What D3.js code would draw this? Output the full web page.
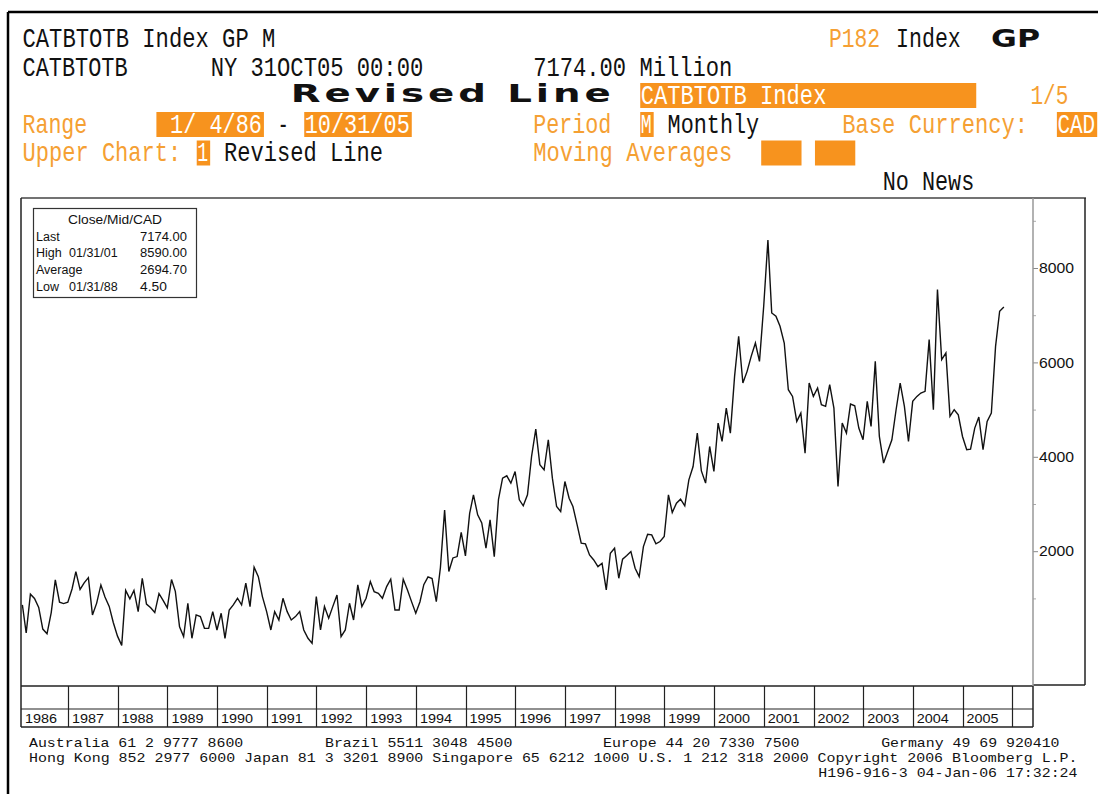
<!DOCTYPE html>
<html><head><meta charset="utf-8">
<script src="https://cdn.jsdelivr.net/npm/d3@7"></script>
<style>body{margin:0;background:#fff;overflow:hidden}</style>
</head><body>
<svg id="chart" width="1098" height="794"></svg>
<script>
// ---------- data ----------
const startYear = 1986;           // first monthly close: Jan 1986
const monthlyValues = [
  // 1986
  861,267,1090,1000,810,350,250,700,1391,920,890,920,
  // 1987
  1200,1568,1190,1330,1440,650,900,1285,1030,830,490,200,
  // 1988
  4.5,1170,990,1170,720,1427,880,800,700,1100,960,800,
  // 1989
  1400,1150,400,190,897,155,649,614,366,366,720,331,
  // 1990
  685,155,755,861,1003,861,1321,826,1660,1462,1038,720,
  // 1991
  331,720,543,1003,720,543,614,720,331,155,48,1038,
  // 1992
  331,826,579,826,1073,190,331,897,543,1286,826,1003,
  // 1993
  1356,1144,1109,1003,1250,1406,755,755,1406,1180,932,685,
  // 1994
  930,1290,1455,1420,930,1650,2870,1570,1857,1886,2400,1900,
  // 1995
  2800,3194,2770,2600,2063,2664,1886,3100,3548,3597,3441,3689,
  // 1996
  3088,2961,3194,4007,4587,3830,3724,4361,3548,2947,2841,3477,
  // 1997
  3123,2947,2558,2169,2155,1921,1815,1674,1745,1179,1957,2063,
  // 1998
  1427,1830,1907,1992,1639,1462,2098,2360,2346,2155,2204,2310,
  // 1999
  3194,2820,3017,3102,2961,3512,3795,4502,3700,3442,4219,3689,
  // 2000
  4714,4325,5032,4502,5704,6553,5563,5810,6128,6411,6022,7189,
  // 2001
  8590,7047,6977,6765,6411,5421,5280,4750,4926,4078,5563,5280,
  // 2002
  5457,5103,5068,5527,5032,3371,4714,4502,5117,5082,4608,4361,
  // 2003
  5174,4644,6022,4431,3866,4113,4361,4997,5563,5068,4325,5174,
  // 2004
  5280,5351,5386,6482,4997,7542,6058,6199,4856,4997,4891,4431,
  // 2005
  4149,4163,4608,4842,4149,4750,4926,6340,7083,7174
];
const yearLabels = ["1986","1987","1988","1989","1990","1991","1992","1993","1994","1995",
                    "1996","1997","1998","1999","2000","2001","2002","2003","2004","2005"];
const yTickValues = [2000,4000,6000,8000];
const yMinorTickValues = [1000,3000,5000,7000,9000];
const statNames  = ["Last","High","Average","Low"];
const statDates  = ["","01/31/01","","01/31/88"];
const statValues = ["7174.00","8590.00","2694.70","4.50"];
const footerLines = [
  [[0,"Australia 61 2 9777 8600"],[33,"Brazil 5511 3048 4500"],[64,"Europe 44 20 7330 7500"],[95,"Germany 49 69 920410"]],
  [[0,"Hong Kong 852 2977 6000 Japan 81 3 3201 8900 Singapore 65 6212 1000 U.S. 1 212 318 2000 Copyright 2006 Bloomberg L.P."]],
  [[88,"H196-916-3 04-Jan-06 17:32:24"]]
];

// ---------- setup ----------
const svg = d3.select("#chart");
const ORANGE_BOX = "#f7931e";
const ORANGE_TXT = "#f5a033";
const MONO = "'Liberation Mono', 'DejaVu Sans Mono', monospace";
const SANS = "'Liberation Sans', Arial, sans-serif";

svg.append("rect").attr("width",1098).attr("height",794).attr("fill","#fff");
// outer frame
svg.append("line").attr("x1",8).attr("x2",1098).attr("y1",12).attr("y2",12).attr("stroke","#000").attr("stroke-width",2.5);
svg.append("line").attr("x1",8).attr("x2",8).attr("y1",12).attr("y2",794).attr("stroke","#000").attr("stroke-width",2.5);

// ---------- header (monospace grid) ----------
const colW = 13.44, col0 = 22;
const rowBase = [47, 75.5, 103.5, 132.5, 161, 189.5];
const cx = c => col0 + c*colW;
function mono(txt, col, row, color){
  svg.append("text").attr("x",cx(col)+0.5).attr("y",rowBase[row])
    .attr("font-family",MONO).attr("font-size",28).attr("fill",color)
    .attr("textLength",txt.length*colW - 2.5).attr("lengthAdjust","spacingAndGlyphs")
    .attr("xml:space","preserve").style("white-space","pre")
    .text(txt);
}
function box(c1, c2, row){
  svg.append("rect").attr("x",cx(c1)).attr("y",rowBase[row]-20.5)
    .attr("width",(c2-c1)*colW).attr("height",25).attr("fill",ORANGE_BOX);
}
mono("CATBTOTB Index GP M",0,0,"#111");
mono("P182",60,0,ORANGE_TXT);
mono("Index",65,0,"#111");
svg.append("text").attr("x",991).attr("y",47).attr("font-family","'DejaVu Sans', sans-serif")
  .attr("font-weight","bold").attr("font-size",25).attr("fill","#111")
  .attr("textLength",49).attr("lengthAdjust","spacingAndGlyphs").text("GP");

mono("CATBTOTB",0,1,"#111");
mono("NY 31OCT05 00:00",14,1,"#111");
mono("7174.00 Million",38,1,"#111");

// wide bold title: glyphs stretched horizontally plus letter spacing
const titleScale = 1.55;
svg.append("g").attr("transform",`translate(${cx(20)},102) scale(${titleScale},1)`)
  .append("text").attr("x",0).attr("y",0).attr("font-family","'DejaVu Sans', sans-serif")
  .attr("font-weight","bold").attr("font-size",25).attr("fill","#111")
  .attr("textLength",320/titleScale).attr("lengthAdjust","spacing").text("Revised Line");
box(46,71,2); mono("CATBTOTB Index",46,2,"#fff");
mono("1/5",75,2,ORANGE_TXT);

mono("Range",0,3,ORANGE_TXT);
box(10,18,3); mono(" 1/ 4/86",10,3,"#fff");
mono("-",19,3,"#111");
box(21,29,3); mono("10/31/05",21,3,"#fff");
mono("Period",38,3,ORANGE_TXT);
box(46,47,3); mono("M",46,3,"#fff");
mono("Monthly",48,3,"#111");
mono("Base Currency:",61,3,ORANGE_TXT);
box(77,80,3); mono("CAD",77,3,"#fff");

mono("Upper Chart:",0,4,ORANGE_TXT);
box(13,14,4); mono("1",13,4,"#fff");
mono("Revised Line",15,4,"#111");
mono("Moving Averages",38,4,ORANGE_TXT);
box(55,58,4); box(59,62,4);

mono("No News",64,5,"#111");

// ---------- chart ----------
const plotL = 21, plotR = 1033, plotT = 198, plotB = 686;
const x = d3.scaleTime()
  .domain([new Date(startYear,0,1), new Date(startYear+yearLabels.length,0,1)])
  .range([18.3, 1012.3]);
const y = d3.scaleLinear().domain([0,8000]).range([645.6,268]);

const data = monthlyValues.map((v,i)=>({date:new Date(startYear, i+1, 0), value:v}));

svg.append("clipPath").attr("id","plotclip").append("rect")
  .attr("x",plotL).attr("y",plotT).attr("width",plotR-plotL).attr("height",plotB-plotT);

// price line
svg.append("path").datum(data)
  .attr("clip-path","url(#plotclip)")
  .attr("fill","none").attr("stroke","#111").attr("stroke-width",1.4)
  .attr("stroke-linejoin","miter")
  .attr("d", d3.line().x(d=>x(d.date)).y(d=>y(d.value)));

// plot frame
svg.append("line").attr("x1",plotL).attr("x2",1086).attr("y1",plotT).attr("y2",plotT).attr("stroke","#444").attr("stroke-width",1.5);
svg.append("line").attr("x1",plotL).attr("x2",plotL).attr("y1",plotT).attr("y2",727).attr("stroke","#222").attr("stroke-width",1.5);
svg.append("line").attr("x1",plotL).attr("x2",plotR).attr("y1",plotB).attr("y2",plotB).attr("stroke","#222").attr("stroke-width",1.5);

// right axis panel
svg.append("line").attr("x1",1085).attr("x2",1085).attr("y1",plotT).attr("y2",685).attr("stroke","#222").attr("stroke-width",1.5);
svg.append("line").attr("x1",plotR).attr("x2",1085).attr("y1",685).attr("y2",685).attr("stroke","#222").attr("stroke-width",1.5);

const yAxis = svg.append("g").attr("transform",`translate(${plotR},0)`)
  .call(d3.axisRight(y).tickValues(yTickValues).tickSize(5).tickPadding(1).tickFormat(d3.format("d")));
yAxis.select(".domain").remove();
yAxis.selectAll(".tick line").attr("stroke","#888");
yAxis.selectAll(".tick text").attr("font-family",SANS).attr("font-size",14.5).attr("fill","#111")
  .attr("textLength",35).attr("lengthAdjust","spacingAndGlyphs");
const yMinor = svg.append("g").attr("transform",`translate(${plotR},0)`)
  .call(d3.axisRight(y).tickValues(yMinorTickValues).tickSize(3).tickFormat(""));
yMinor.select(".domain").remove();
yMinor.selectAll(".tick line").attr("stroke","#aaa");
svg.append("line").attr("x1",plotR).attr("x2",plotR).attr("y1",plotT).attr("y2",686).attr("stroke","#999").attr("stroke-width",1.5);

// year grid below the plot
const yrRow1 = 709, yrBottom = 727;
svg.append("line").attr("x1",plotL).attr("x2",plotR).attr("y1",yrRow1).attr("y2",yrRow1).attr("stroke","#222").attr("stroke-width",1.2);
svg.append("line").attr("x1",plotL).attr("x2",plotR).attr("y1",yrBottom).attr("y2",yrBottom).attr("stroke","#222").attr("stroke-width",1.5);
svg.append("line").attr("x1",plotR).attr("x2",plotR).attr("y1",plotB).attr("y2",yrBottom).attr("stroke","#222").attr("stroke-width",1.5);
const yearStarts = yearLabels.map(l=>new Date(+l,0,1));
svg.append("g").selectAll("line").data(yearStarts.slice(1).concat([new Date(startYear+yearLabels.length,0,1)]))
  .join("line").attr("x1",d=>Math.round(x(d))+0.5).attr("x2",d=>Math.round(x(d))+0.5)
  .attr("y1",plotB).attr("y2",yrBottom).attr("stroke","#222").attr("stroke-width",1.2);
svg.append("g").selectAll("text").data(yearLabels)
  .join("text")
  .attr("x",(d,i)=>Math.max(plotL, x(yearStarts[i])) + 4)
  .attr("y",723).attr("font-family",SANS).attr("font-size",13.5).attr("fill","#111")
  .attr("textLength",32).attr("lengthAdjust","spacingAndGlyphs")
  .text(d=>d);

// stats legend
const lg = svg.append("g");
lg.append("rect").attr("x",33.5).attr("y",208.5).attr("width",163).attr("height",89)
  .attr("fill","#fff").attr("stroke","#333").attr("stroke-width",1.2);
lg.append("text").attr("x",115).attr("y",224).attr("text-anchor","middle")
  .attr("font-family",SANS).attr("font-size",12.5).attr("fill","#111")
  .attr("textLength",94).attr("lengthAdjust","spacingAndGlyphs").text("Close/Mid/CAD");
statNames.forEach((n,i)=>{
  const by = 240.5 + i*16.7;
  lg.append("text").attr("x",36).attr("y",by).attr("font-family",SANS).attr("font-size",12.5).attr("fill","#111").text(n);
  if (statDates[i]) lg.append("text").attr("x",69).attr("y",by).attr("font-family",SANS).attr("font-size",12.5).attr("fill","#111").text(statDates[i]);
  lg.append("text").attr("x",140).attr("y",by).attr("font-family",SANS).attr("font-size",12.5).attr("fill","#111")
    .attr("textLength",statValues[i].length*6.7).attr("lengthAdjust","spacingAndGlyphs").text(statValues[i]);
});

// footer
const fColW = 8.97, fX0 = 29, fBase = [747, 762, 776.5];
footerLines.forEach((segs,r)=>{
  segs.forEach(([c,t])=>{
    svg.append("text").attr("x",fX0 + c*fColW).attr("y",fBase[r])
      .attr("font-family",MONO).attr("font-size",13.5).attr("fill","#111")
      .attr("textLength",t.length*fColW - 1).attr("lengthAdjust","spacingAndGlyphs")
      .attr("xml:space","preserve").style("white-space","pre").text(t);
  });
});
</script>
</body></html>
